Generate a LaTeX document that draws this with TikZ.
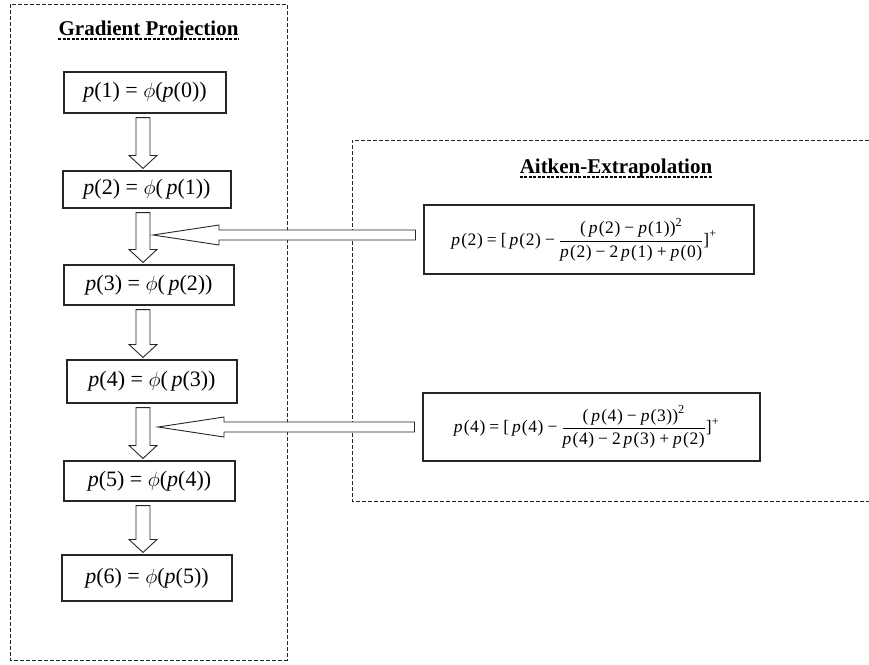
\documentclass[tikz,border=0pt]{standalone}
\usepackage{amsmath}
\usepackage{fontspec}
\setmainfont{Liberation Serif}
\usetikzlibrary{calc}
\newcommand{\pa}[1]{\textit{p}(#1)}
\newcommand{\pb}[1]{\textit{p}\kern1.2pt(\kern0.6pt#1\kern0.6pt)}
\newcommand{\ph}{$\phi$}
\newcommand{\mi}{\kern4pt−\kern4pt}
\newcommand{\pl}{\kern4pt+\kern4pt}
\newcommand{\eq}{\kern4pt=\kern4pt}
\newcommand{\vblock}[2]{%
  \draw[blockarrow] let \p1=(#1.south), \p2=(#2.north) in
    (136pt,\y1-4) -- (136pt,\y2+15) -- (129pt,\y2+15) -- (143pt,\y2+2)
    -- (157pt,\y2+15) -- (150pt,\y2+15) -- (150pt,\y1-4) -- cycle;}
\newcommand{\hblock}[2]{%
  \draw[blockarrow] let \p1=(#1.west), \p2=(#2) in
    (\x1-8,\y2+5) -- (\x2+66,\y2+5) -- (\x2+66,\y2+10) -- (\x2,\y2)
    -- (\x2+66,\y2-10) -- (\x2+66,\y2-5) -- (\x1-8,\y2-5) -- cycle;}
\tikzset{
  frame/.style={draw=black!85, line width=0.9pt, dash pattern=on 4pt off 2pt},
  eqbox/.style={draw=black!85, line width=1.1pt, inner sep=0pt, align=center,
    font=\fontsize{22}{26}\selectfont},
  aitbox/.style={draw=black!85, line width=1.1pt, inner sep=0pt, align=center,
    font=\fontsize{17.5}{21}\selectfont},
  titletext/.style={inner sep=0pt, anchor=base, font=\fontsize{21}{25}\selectfont\bfseries},
  uline/.style={line width=1.3pt, dash pattern=on 3pt off 1.5pt},
  blockarrow/.style={draw=black!85, fill=white, line width=0.9pt, line join=miter}
}
\begin{document}
\begin{tikzpicture}[x=1pt,y=-1pt]
\useasboundingbox (0,0) rectangle (869,664);
% containers
\draw[frame] (10,4) rectangle (287,660);
\draw[frame] (869,140) -- (352,140) -- (352,501) -- (869,501);
% titles
\node[titletext] (gt) at (148.5,35) {Gradient Projection};
\draw[uline] ($(gt.base west)+(0,4)$) -- ($(gt.base east)+(0,4)$);
\node[titletext] (at) at (616,173) {Aitken-Extrapolation};
\draw[uline] ($(at.base west)+(0,4)$) -- ($(at.base east)+(0,4)$);
% gradient projection steps
\node[eqbox, minimum width=162pt, minimum height=41pt] (b1) at (145,92.5) {\pa{1} = \ph(\pa{0})};
\node[eqbox, minimum width=168pt, minimum height=37pt] (b2) at (147,189.5) {\pa{2} = \ph(\,\pa{1})};
\node[eqbox, minimum width=170pt, minimum height=40pt] (b3) at (149,285) {\pa{3} = \ph(\,\pa{2})};
\node[eqbox, minimum width=170pt, minimum height=43pt] (b4) at (152,381.5) {\pa{4} = \ph(\,\pa{3})};
\node[eqbox, minimum width=171pt, minimum height=40pt] (b5) at (149.5,481) {\pa{5} = \ph(\pa{4})};
\node[eqbox, minimum width=170pt, minimum height=46pt] (b6) at (147,578) {\pa{6} = \ph(\pa{5})};
% aitken formulas
\node[aitbox, minimum width=330pt, minimum height=69pt] (fa) at (589,239.5)
  {\kern-10pt$\text{\pb{2}\eq[\,\pb{2}\mi}\dfrac{\text{(\,\pb{2}\mi\pb{1})}^{\text{2}}}{\text{\pb{2}\mi 2\,\pb{1}\pl\pb{0}}}\text{]}^{\text{+}}$};
\node[aitbox, minimum width=337pt, minimum height=68pt] (fb) at (591.5,427)
  {\kern-10pt$\text{\pb{4}\eq[\,\pb{4}\mi}\dfrac{\text{(\,\pb{4}\mi\pb{3})}^{\text{2}}}{\text{\pb{4}\mi 2\,\pb{3}\pl\pb{2}}}\text{]}^{\text{+}}$};
% connectors
\vblock{b1}{b2}
\vblock{b2}{b3}
\vblock{b3}{b4}
\vblock{b4}{b5}
\vblock{b5}{b6}
\coordinate (tipA) at (153,235);
\coordinate (tipB) at (158,427);
\hblock{fa}{tipA}
\hblock{fb}{tipB}
\end{tikzpicture}
\end{document}
